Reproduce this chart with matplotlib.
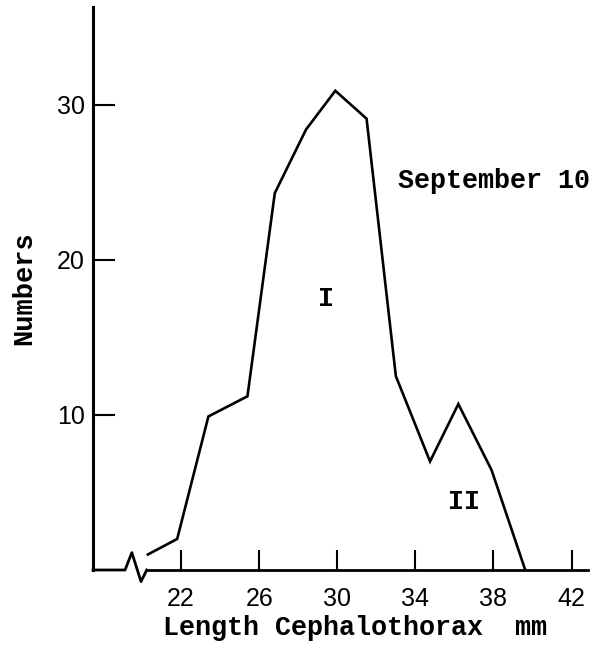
import matplotlib
matplotlib.use("Agg")
import matplotlib.pyplot as plt
from matplotlib.lines import Line2D

# Data
length_mm = [20.3, 21.8, 23.4, 25.4, 26.8, 28.4, 29.9, 31.5, 33.0, 34.75, 36.2, 37.9, 39.6]
numbers = [1.0, 2.0, 9.9, 11.2, 24.3, 28.4, 30.9, 29.1, 12.5, 7.0, 10.7, 6.45, 0.1]
xticks = [22, 26, 30, 34, 38, 42]
yticks = [10, 20, 30]
title_text = "September 10"
group_labels = ["I", "II"]
group_pos_x = [29.4, 36.5]
group_pos_y = [17.5, 4.4]

mono = "Liberation Mono"
sans = "Liberation Sans"

fig = plt.figure(figsize=(6.0, 6.53), dpi=100)
ax = fig.add_axes([93 / 600, (653 - 570) / 653, 495 / 600, 563 / 653])
ax.set_xlim(17.49, 42.84)
ax.set_ylim(0, 36.3)

ax.plot(length_mm, numbers, color="black", lw=1.9, solid_joinstyle="miter")

for s in ["top", "right"]:
    ax.spines[s].set_visible(False)
ax.spines["left"].set_linewidth(2.2)
ax.spines["bottom"].set_linewidth(2.0)
ax.spines["bottom"].set_bounds(20.24, 42.84)

# axis break zigzag
brk_x = [17.49, 19.13, 19.48, 19.95, 20.24]
brk_y = [0, 0, 1.12, -0.75, 0]
ax.add_line(Line2D(brk_x, brk_y, color="black", lw=2.0, clip_on=False))

ax.set_xticks(xticks)
ax.set_yticks(yticks)
ax.tick_params(axis="x", direction="in", length=14.5, width=1.5, pad=12,
               labelsize=18)
ax.tick_params(axis="y", direction="in", length=15.5, width=1.5, pad=6,
               labelsize=18)
for lab in ax.get_xticklabels() + ax.get_yticklabels():
    lab.set_fontfamily(sans)

ax.set_xlabel("Length Cephalothorax  mm", fontfamily=mono, fontweight="bold",
              fontsize=19.3, labelpad=3, x=0.53)
ax.set_ylabel("Numbers", fontfamily=mono, fontweight="bold", fontsize=19.5,
              labelpad=14)

ax.text(33.1, 25.05, title_text, fontfamily=mono, fontweight="bold",
        fontsize=19.3, ha="left", va="center")
for lbl, gx, gy in zip(group_labels, group_pos_x, group_pos_y):
    ax.text(gx, gy, lbl, fontfamily=mono, fontweight="bold", fontsize=19.3,
            ha="center", va="center")

fig.savefig("out.png", dpi=100)
